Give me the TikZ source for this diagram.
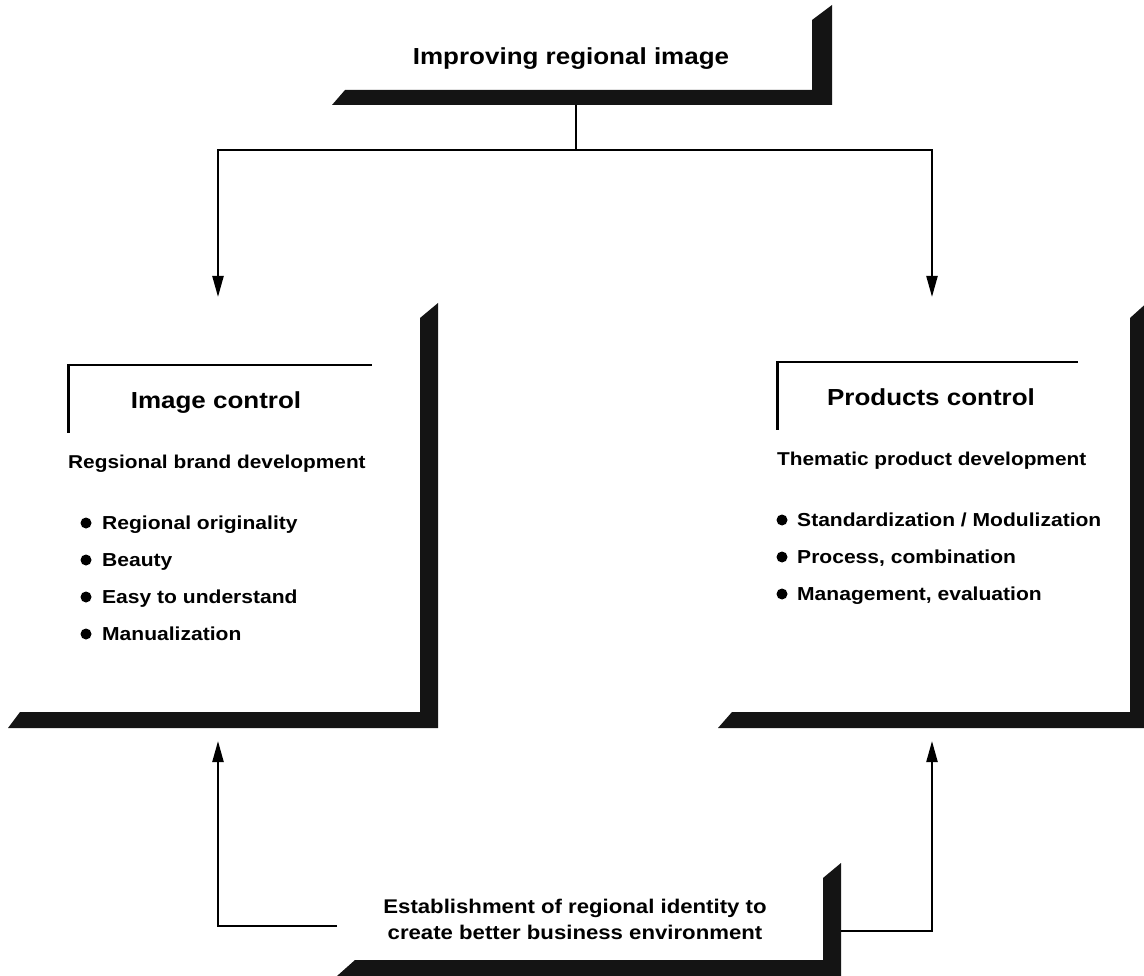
\documentclass[tikz,border=0pt]{standalone}
\usepackage{fontspec}
\setmainfont{Liberation Sans}[FakeStretch=1.12]
\usetikzlibrary{arrows.meta}
\tikzset{
  barfill/.style={fill=black!92, draw=none},
  panel/.style={draw=none, inner sep=0pt, outer sep=0pt},
  conn/.style={line width=2.2pt, draw=black},
  arr/.style={conn, -{Triangle[length=21pt,width=11pt]}},
  brackettop/.style={line width=1.5pt, draw=black},
  bracketside/.style={line width=3pt, draw=black},
  headtext/.style={font=\bfseries\fontsize{23.2}{27}\selectfont, inner sep=0pt, anchor=base},
  subtext/.style={font=\bfseries\fontsize{18.6}{22}\selectfont, inner sep=0pt, anchor=base west},
  itemtext/.style={font=\bfseries\fontsize{18.8}{22}\selectfont, inner sep=0pt, anchor=base west},
  basetext/.style={font=\bfseries\fontsize{19.8}{26}\selectfont, inner sep=0pt, align=center},
  dot/.style={fill=black}
}
\begin{document}
\begin{tikzpicture}[x=1pt,y=-1pt]
\useasboundingbox[fill=white] (0,0) rectangle (1144,976);
\begin{scope}
\clip (0,0) rectangle (1144,976);
% shadow bars (L shapes)
\fill[barfill] (332,105) -- (345,90) -- (812,90) -- (812,20) -- (832,5) -- (832,105) -- cycle;
\fill[barfill] (8,728) -- (20,712) -- (420,712) -- (420,318) -- (438,303) -- (438,728) -- cycle;
\fill[barfill] (718,728) -- (732,712) -- (1130,712) -- (1130,318) -- (1150,300) -- (1150,728) -- cycle;
\fill[barfill] (337,976) -- (355,960) -- (823,960) -- (823,878) -- (841,863) -- (841,980) -- (337,980) -- cycle;
\end{scope}

% invisible panel frames
\node[panel, minimum width=500pt, minimum height=100pt] (tbox) at (582,55) {};
\node[panel, minimum width=430pt, minimum height=425pt] (lbox) at (223,515.5) {};
\node[panel, minimum width=426pt, minimum height=423pt] (rbox) at (931,516.5) {};
\node[panel, minimum width=504pt, minimum height=113pt] (bbox) at (589,919.5) {};

% texts
\node[headtext] (title) at (571,65) {Improving regional image};

\draw[brackettop] (68,365) -- (372,365);
\draw[bracketside] (68,364) -- (68,433);
\node[headtext] (imgc) at (216,409) {Image control};
\node[subtext] (lsub) at (68,468) {Regsional brand development};
\fill[dot] (86,523) circle[radius=5.5pt];
\node[itemtext] (l1) at (102,529) {Regional originality};
\fill[dot] (86,560) circle[radius=5.5pt];
\node[itemtext] (l2) at (102,566) {Beauty};
\fill[dot] (86,597) circle[radius=5.5pt];
\node[itemtext] (l3) at (102,603) {Easy to understand};
\fill[dot] (86,634) circle[radius=5.5pt];
\node[itemtext] (l4) at (102,640) {Manualization};

\draw[brackettop] (777,362) -- (1078,362);
\draw[bracketside] (777,361) -- (777,430);
\node[headtext] (prodc) at (931,406) {Products control};
\node[subtext] (rsub) at (777,465) {Thematic product development};
\fill[dot] (782,520) circle[radius=5.5pt];
\node[itemtext] (r1) at (797,526) {Standardization / Modulization};
\fill[dot] (782,557) circle[radius=5.5pt];
\node[itemtext] (r2) at (797,563) {Process, combination};
\fill[dot] (782,594) circle[radius=5.5pt];
\node[itemtext] (r3) at (797,600) {Management, evaluation};

\node[basetext] (est) at (575,919) {Establishment of regional identity to\\create better business environment};

% connectors
\coordinate (jn) at (576,150);
\coordinate (la) at (218,297);
\coordinate (ra) at (932,297);
\coordinate (lb) at (218,741);
\coordinate (rb) at (932,741);
\draw[conn] (tbox.south -| jn) -- (jn);
\draw[arr] (jn) -| (la);
\draw[arr] (jn) -| (ra);
\draw[arr] (bbox.west |- 0,926) -| (lb);
\draw[arr] (bbox.east |- 0,931) -| (rb);
\end{tikzpicture}
\end{document}
